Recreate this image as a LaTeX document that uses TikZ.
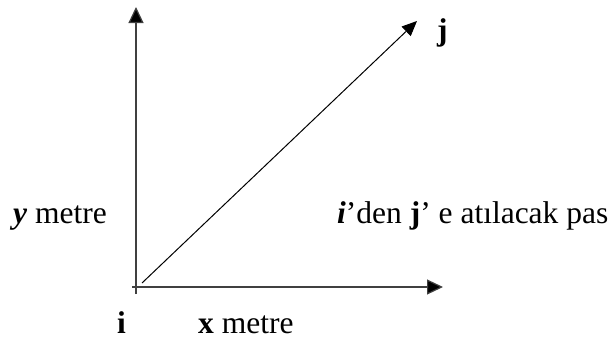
\documentclass[tikz,border=0pt]{standalone}
\usepackage{fontspec}
\setmainfont{Liberation Serif}
\usetikzlibrary{arrows.meta, positioning}

\begin{document}
\begin{tikzpicture}[x=1pt, y=-1pt,
    every node/.style={font=\fontsize{31.5}{36}\selectfont, inner sep=0pt},
    axis/.style={line width=1.2pt, draw=black!75, -{Triangle[length=16pt, width=15pt, fill=black]}},
    arr/.style={line width=1pt, -{Triangle[length=15pt, width=13pt]}}
]
    \useasboundingbox (0,0) rectangle (612,340);

    % axes
    \coordinate (ybot) at (136,294);
    \coordinate (ytop) at (136,7);
    \coordinate (xleft) at (132,287);
    \coordinate (xright) at (443,287);
    \draw[axis] (ybot) -- (ytop);
    \draw[axis] (xleft) -- (xright);

    % pass from i to j
    \coordinate (i) at (142,283);
    \coordinate (j) at (417,21);
    \draw[arr] (i) -- (j);

    % labels
    \node[anchor=base west] (jlab) at (437,40) {\textbf{j}};
    \node[anchor=base west] (ylab) at (13,223) {\textbf{\textit{y}} metre};
    \node[anchor=base west] (paslab) at (337,223) {\textbf{\textit{i}}’den \textbf{j}’ e atılacak pas};
    \node[anchor=base west] (ilab) at (117,333) {\textbf{i}};
    \node[anchor=base west] (xlab) at (198,333) {\textbf{x} metre};
\end{tikzpicture}
\end{document}
